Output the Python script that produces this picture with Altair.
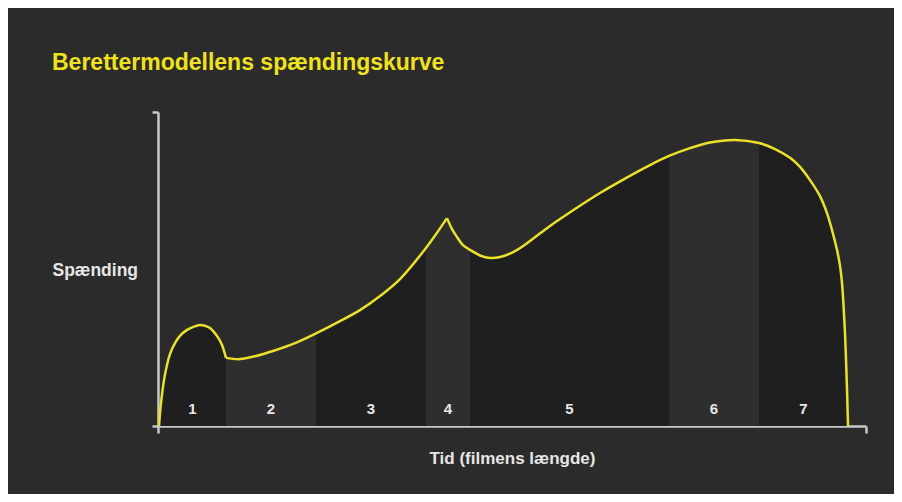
import altair as alt
import pandas as pd

# Tension curve (time 0-100, tension 0-100)
curve_x = [
    0.14, 0.35, 0.56, 0.85, 1.27, 1.69, 2.40, 3.11, 4.10, 4.94, 5.93, 6.64,
    7.34, 7.91, 8.47, 9.04, 9.60,
    11.58, 13.84, 16.24, 19.35, 22.32, 25.71, 28.53, 31.36, 34.18, 37.85, 40.82,
    41.53, 42.23, 43.08, 44.07, 45.48, 46.89, 48.31, 50.42, 52.54, 55.37, 58.90,
    62.43, 65.96, 69.49, 72.18, 75.14, 77.97, 81.50, 84.89, 87.15, 89.27, 90.68,
    92.09, 93.50, 94.49, 95.20, 95.90, 96.33, 96.61, 96.82, 97.03, 97.18, 97.32,
    97.46,
]
curve_y = [
    0.0, 5.7, 9.9, 14.6, 19.4, 22.9, 26.4, 28.7, 30.6, 31.5, 32.2, 31.9,
    31.2, 29.9, 28.2, 25.8, 21.7,
    21.3, 22.3, 23.9, 26.4, 29.5, 33.4, 36.9, 41.4, 46.8, 56.7, 66.2,
    62.7, 60.2, 57.6, 56.1, 54.3, 53.5, 53.8, 55.7, 58.9, 63.7, 69.1,
    74.2, 78.8, 83.1, 86.0, 88.5, 90.3, 91.1, 90.1, 88.2, 85.4, 82.5,
    78.3, 73.2, 67.8, 62.4, 56.1, 51.0, 45.5, 38.5, 29.6, 21.0, 11.5,
    0.0,
]
# Sharp turning points of the curve
cusps = [9.60, 40.82]

# Acts (bands) and their labels
band_label = ["1", "2", "3", "4", "5", "6", "7"]
band_start = [0.14, 9.60, 22.32, 37.85, 44.07, 72.18, 84.89]
band_end = [9.60, 22.32, 37.85, 44.07, 72.18, 84.89, 97.46]
label_y = 5.4

BG = "#2b2b2b"
YELLOW = "#ebe02a"
AXIS = "#c9c9c9"
FONT = "Liberation Sans"

# Line pieces: split at the cusps so they stay sharp
bounds = [curve_x[0]] + cusps + [curve_x[-1]]
line_rows = []
for s in range(len(bounds) - 1):
    for x, y in zip(curve_x, curve_y):
        if bounds[s] <= x <= bounds[s + 1]:
            line_rows.append({"seg": s, "t": x, "s": y})
line_df = pd.DataFrame(line_rows)
line_df["order"] = range(len(line_df))

# Area pieces: one per band, also split at cusps
area_rows = []
for i, (a, b) in enumerate(zip(band_start, band_end)):
    cuts = [a] + [c for c in cusps if a < c < b] + [b]
    for k in range(len(cuts) - 1):
        for x, y in zip(curve_x, curve_y):
            if cuts[k] <= x <= cuts[k + 1]:
                area_rows.append({
                    "piece": f"{i}-{k}", "t": x, "s": y,
                    "shade": "dark" if i % 2 == 0 else "light",
                })
area_df = pd.DataFrame(area_rows)

bands = pd.DataFrame(
    {"label": band_label, "start": band_start, "end": band_end, "ly": [label_y] * 7}
)

xscale = alt.Scale(domain=[0, 100], nice=False, zero=False)
yscale = alt.Scale(domain=[0, 100], nice=False)

x_axis = alt.Axis(
    values=[0, 100], labels=False, ticks=True, tickSize=7, tickWidth=2.5,
    tickColor=AXIS, domainColor=AXIS, domainWidth=2.5, grid=False,
    title="Tid (filmens længde)", titleColor="#e6e6e6", titleFont=FONT,
    titleFontSize=17, titleFontWeight="bold", titleBaseline="middle",
    titleY=32,
)
y_axis = alt.Axis(
    values=[0, 100], labels=False, ticks=True, tickSize=6, tickWidth=2.5,
    tickColor=AXIS, domainColor=AXIS, domainWidth=2.5, grid=False,
    title="Spænding", titleColor="#e6e6e6", titleFont=FONT, titleFontSize=17.5,
    titleFontWeight="bold", titleAngle=0, titleAlign="left",
    titleBaseline="middle", titleX=-106, titleY=158,
)

area = alt.Chart(area_df).mark_area(interpolate="catmull-rom", opacity=1).encode(
    x=alt.X("t:Q", scale=xscale, axis=x_axis),
    y=alt.Y("s:Q", scale=yscale, axis=y_axis, stack=None),
    detail="piece:N",
    fill=alt.Fill(
        "shade:N",
        scale=alt.Scale(domain=["dark", "light"], range=["#1f1f1f", "#2e2e2e"]),
        legend=None,
    ),
)

line = alt.Chart(line_df).mark_line(
    interpolate="catmull-rom", color=YELLOW, strokeWidth=2.5
).encode(
    x=alt.X("t:Q", scale=xscale),
    y=alt.Y("s:Q", scale=yscale),
    detail="seg:N",
    order="order:Q",
)

labels = alt.Chart(bands).transform_calculate(
    mid="(datum.start + datum.end) / 2"
).mark_text(
    font=FONT, fontSize=15, fontWeight="bold", color="#e8e8e8", baseline="middle"
).encode(
    x=alt.X("mid:Q", scale=xscale),
    y=alt.Y("ly:Q", scale=yscale),
    text="label:N",
)

chart = alt.layer(area, line, labels).properties(
    width=708,
    height=314,
    autosize=alt.AutoSizeParams(type="none"),
    padding={"left": 150, "top": 104, "right": 28, "bottom": 68},
    background=BG,
    title=alt.TitleParams(
        "Berettermodellens spændingskurve",
        anchor="start", frame="group", dx=-106, offset=18,
        baseline="alphabetic", color="#f0e21c", font=FONT, fontSize=23,
        fontWeight="bold",
    ),
).configure_view(stroke=None)

chart.save("out.html", embed_options={"renderer": "svg", "actions": False})
